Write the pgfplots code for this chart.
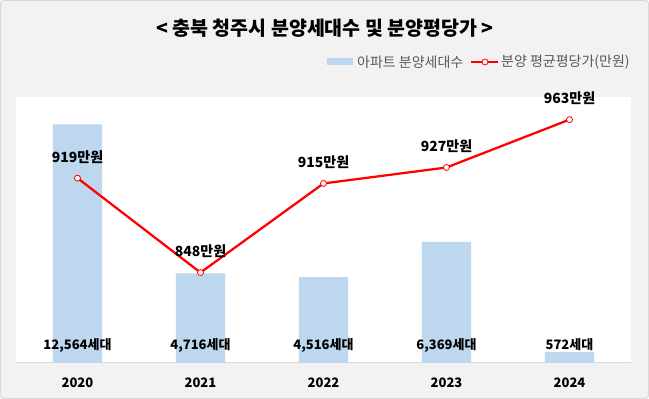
\documentclass[border=0pt]{standalone}
\usepackage{pgfplots}
\pgfplotsset{compat=1.18}
\usepackage{fontspec}
\setmainfont{Noto Sans CJK KR}
\definecolor{barblue}{HTML}{BDD7EE}
\definecolor{bgray}{HTML}{F2F2F2}
\definecolor{bord}{HTML}{D9D9D9}
\definecolor{linegray}{HTML}{D9D9D9}
\definecolor{legtext}{HTML}{595959}
\begin{document}
\begin{tikzpicture}
\fill[bgray, draw=bord, line width=1pt, rounded corners=3pt] (0.5pt,0.5pt) rectangle (648.5pt,398.5pt);
\fill[white] (16pt,36pt) rectangle (631pt,302pt);
\node[font=\fontsize{19.5}{22}\selectfont\bfseries] at (325pt,371pt) {< 충북 청주시 분양세대수 및 분양평당가 >};
% legend
\fill[barblue] (327pt,334pt) rectangle (353pt,341pt);
\node[anchor=west, inner sep=0pt, text=legtext, font=\fontsize{14}{16}\selectfont] at (357pt,337pt) {아파트 분양세대수};
\draw[red, line width=2.25pt] (471pt,337pt) -- (498pt,337pt);
\draw[red, fill=white, line width=0.8pt] (485pt,337pt) circle (3pt);
\node[anchor=west, inner sep=0pt, text=legtext, font=\fontsize{14}{16}\selectfont] at (501pt,337pt) {분양 평균평당가(만원)};
\begin{axis}[at={(16pt,36pt)}, anchor=south west, scale only axis,
  width=615pt, height=266pt,
  xmin=-0.5, xmax=4.5, ymin=0, ymax=14000,
  axis y line=none, axis x line=bottom,
  axis line style={-, draw=linegray, line width=1pt},
  xtick={0,1,2,3,4}, xticklabels={2020,2021,2022,2023,2024},
  major tick length=0pt,
  xticklabel style={font=\fontsize{13}{15}\selectfont\bfseries, anchor=center, yshift=-20pt},
  clip=false]
\addplot[ybar, fill=barblue, draw=none, bar width=0.4] coordinates {(0,12564) (1,4716) (2,4516) (3,6369) (4,572)};
\addplot[only marks, mark=*, mark size=0pt, mark options={draw=none,fill=none},
  nodes near coords, point meta=explicit symbolic,
  nodes near coords style={anchor=center, text=black, font=\fontsize{13}{15}\selectfont\bfseries}]
  coordinates {(0,946)[{12,564세대}] (1,946)[{4,716세대}] (2,946)[{4,516세대}] (3,946)[{6,369세대}] (4,946)[{572세대}]};
\end{axis}
\begin{axis}[at={(16pt,36pt)}, anchor=south west, scale only axis,
  width=615pt, height=266pt,
  xmin=-0.5, xmax=4.5, ymin=780, ymax=980,
  hide axis, clip=false]
\addplot[red, line width=2.25pt, mark=*, mark size=3pt,
  mark options={fill=white, draw=red, line width=0.8pt},
  nodes near coords, point meta=explicit symbolic,
  nodes near coords style={anchor=center, yshift=21pt, text=black, font=\fontsize{14}{16}\selectfont\bfseries}]
  coordinates {(0,919)[919만원] (1,848)[848만원] (2,915)[915만원] (3,927)[927만원] (4,963)[963만원]};
\end{axis}
\end{tikzpicture}
\end{document}
